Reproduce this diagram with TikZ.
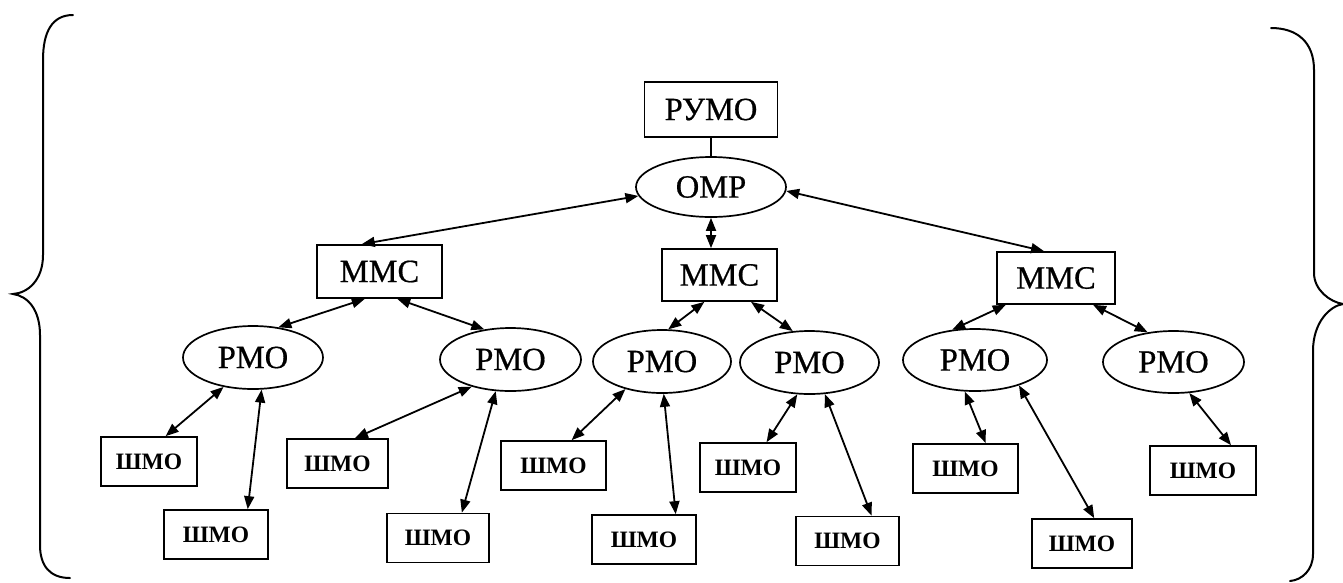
\documentclass[tikz,border=0pt]{standalone}
\usepackage{fontspec}
\setmainfont{Liberation Serif}
\newfontfamily\heavyserif{Liberation Serif}[FakeBold=0.6]
\usetikzlibrary{arrows.meta,shapes.geometric,calc}
\newcommand\myBig{\heavyserif\fontsize{32.5}{35}\selectfont}
\newcommand\mySmall{\fontsize{23.5}{25}\selectfont\bfseries}
\begin{document}
\begin{tikzpicture}[x=1pt,y=-1pt,
  bx/.style={draw, rectangle, line width=1.7pt, inner sep=0pt, font=\myBig},
  ov/.style={draw, ellipse, line width=1.7pt, inner sep=0pt, font=\myBig},
  sm/.style={draw, rectangle, line width=1.7pt, inner sep=0pt, font=\mySmall, minimum height=49pt},
  lk/.style={line width=1.8pt, {Triangle[length=13pt,width=10pt]}-{Triangle[length=13pt,width=10pt]}},
  plain/.style={line width=1.5pt},
  br/.style={line width=2pt, line cap=round}]
\useasboundingbox (0,0) rectangle (1343,582);

% braces
\draw[br] (73,15) .. controls (52,15) and (43,32) .. (43,60) -- (43,255)
  .. controls (43,280) and (28,293) .. (13,294)
  .. controls (28,296) and (40,310) .. (40,335) -- (40,545)
  .. controls (40,566) and (50,578) .. (70,578);
\draw[br] (1271,28) .. controls (1297,28) and (1314,42) .. (1314,70) -- (1314,273)
  .. controls (1314,290) and (1330,302) .. (1343,304)
  .. controls (1330,306) and (1313,322) .. (1313,351) -- (1313,554)
  .. controls (1313,570) and (1302,580) .. (1290,581);

% nodes
\node[bx, minimum width=133pt, minimum height=55pt] (rumo) at (711,109.5) {РУМО};
\node[ov, minimum width=150pt, minimum height=60pt] (omr) at (711,187) {ОМР};
\node[bx, minimum width=125pt, minimum height=53pt] (m1) at (379.5,271.5) {ММС};
\node[bx, minimum width=115pt, minimum height=52pt] (m2) at (719.5,275) {ММС};
\node[bx, minimum width=118pt, minimum height=52pt] (m3) at (1056,278) {ММС};

\node[ov, minimum width=140pt, minimum height=63pt] (p1) at (253,357.5) {РМО};
\node[ov, minimum width=141pt, minimum height=63pt] (p2) at (510.5,359.5) {РМО};
\node[ov, minimum width=138pt, minimum height=63pt] (p3) at (662,361.5) {РМО};
\node[ov, minimum width=139pt, minimum height=63pt] (p4) at (809.5,362.5) {РМО};
\node[ov, minimum width=144pt, minimum height=62pt] (p5) at (975,360) {РМО};
\node[ov, minimum width=141pt, minimum height=62pt] (p6) at (1173.5,362) {РМО};

\node[sm, minimum width=96pt]  (s1a) at (149,461.5) {ШМО};
\node[sm, minimum width=104pt] (s1b) at (216,534.5) {ШМО};
\node[sm, minimum width=101pt] (s2a) at (337.5,463.5) {ШМО};
\node[sm, minimum width=102pt] (s2b) at (438,538) {ШМО};
\node[sm, minimum width=105pt] (s3a) at (553.5,465.5) {ШМО};
\node[sm, minimum width=104pt] (s3b) at (644,539.5) {ШМО};
\node[sm, minimum width=96pt]  (s4a) at (748,467.5) {ШМО};
\node[sm, minimum width=103pt] (s4b) at (847.5,541) {ШМО};
\node[sm, minimum width=105pt] (s5a) at (965.5,468.5) {ШМО};
\node[sm, minimum width=100pt] (s5b) at (1082,543.5) {ШМО};
\node[sm, minimum width=106pt] (s6a) at (1203,470.5) {ШМО};

% connectors
\draw[plain] (rumo.south) -- (omr.north);
\draw[lk] (omr.187) -- ($(m1.north west)!0.36!(m1.north east)$);
\draw[lk] (omr.-3) -- ($(m3.north west)!0.40!(m3.north east)$);
\draw[lk] (omr.south) -- (omr.south |- m2.north);

\draw[lk] ($(m1.south west)!0.384!(m1.south east)$) -- (p1.50);
\draw[lk] ($(m1.south west)!0.64!(m1.south east)$) -- (p2.131);
\draw[lk] ($(m2.south west)!0.37!(m2.south east)$) -- (p3.79);
\draw[lk] ($(m2.south west)!0.77!(m2.south east)$) -- (p4.118);
\draw[lk] ($(m3.south west)!0.08!(m3.south east)$) -- (p5.127);
\draw[lk] ($(m3.south west)!0.81!(m3.south east)$) -- (p6.131);

\draw[lk] (p1.-135) -- ($(s1a.north west)!0.67!(s1a.north east)$);
\draw[lk] (p1.-75)  -- ($(s1b.north west)!0.80!(s1b.north east)$);
\draw[lk] (p2.-145) -- ($(s2a.north west)!0.67!(s2a.north east)$);
\draw[lk] (p2.-115) -- ($(s2b.north west)!0.73!(s2b.north east)$);
\draw[lk] (p3.-143) -- ($(s3a.north west)!0.67!(s3a.north east)$);
\draw[lk] (p3.-87)  -- ($(s3b.north west)!0.80!(s3b.north east)$);
\draw[lk] (p4.-111) -- ($(s4a.north west)!0.69!(s4a.north east)$);
\draw[lk] (p4.-64)  -- ($(s4b.north west)!0.73!(s4b.north east)$);
\draw[lk] (p5.-108) -- ($(s5a.north west)!0.69!(s5a.north east)$);
\draw[lk] (p5.-30)  -- ($(s5b.north west)!0.62!(s5b.north east)$);
\draw[lk] (p6.-63)  -- ($(s6a.north west)!0.76!(s6a.north east)$);
\end{tikzpicture}
\end{document}
